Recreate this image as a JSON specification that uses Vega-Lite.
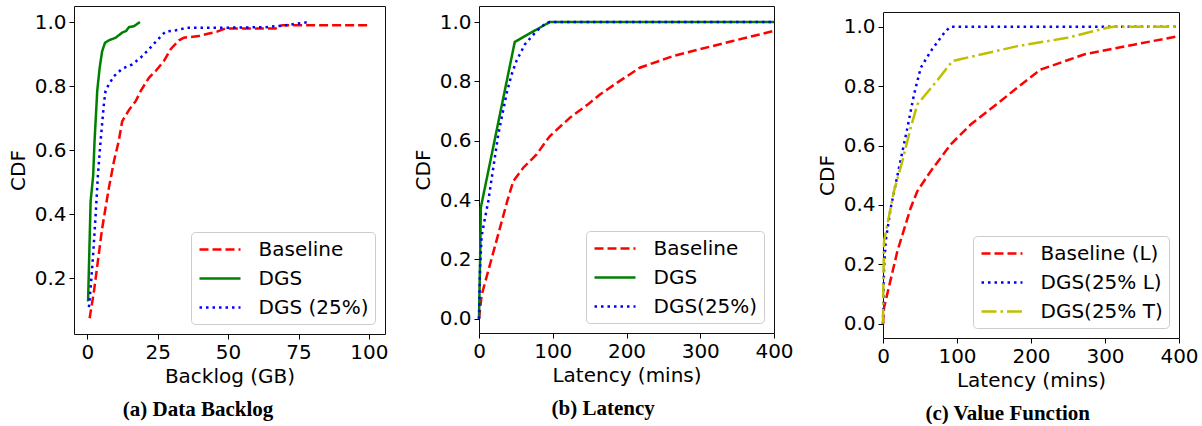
{
  "$schema": "https://vega.github.io/schema/vega-lite/v6.json",
  "padding": {"left": 7, "top": 5, "right": 0, "bottom": 0},
  "spacing": 23,
  "config": {
    "font": "DejaVu Sans",
    "view": {"stroke": "#111111", "strokeWidth": 1},
    "axis": {
      "labelFont": "DejaVu Sans", "labelFontSize": 20, "labelColor": "black",
      "titleFont": "DejaVu Sans", "titleFontSize": 20, "titleFontWeight": "normal", "titleColor": "black",
      "tickColor": "black", "tickSize": 5, "labelPadding": 3, "domain": false, "grid": false,
      "domainColor": "#111111", "domainWidth": 1,
      "labelFlush": false, "labelOverlap": false, "labelBound": false
    },
    "axisY": {"titlePadding": 6},
    "axisX": {"titlePadding": 4},
    "legend": {
      "orient": "bottom-right", "offset": 10, "padding": 6, "strokeColor": "#cccccc", "fillColor": "white",
      "cornerRadius": 4, "symbolType": "M-2,0H2", "symbolSize": 420, "symbolStrokeWidth": 2.5, "symbolOffset": 11.5,
      "labelFont": "DejaVu Sans", "labelFontSize": 20, "labelColor": "black", "labelOffset": 27, "rowPadding": 7, "title": null
    },
    "title": {"font": "Liberation Serif", "fontWeight": "bold", "fontSize": 21, "color": "black", "orient": "bottom", "frame": "bounds", "anchor": "middle", "offset": 13},
    "line": {"strokeWidth": 2.5}
  },
  "resolve": {"scale": {"color": "independent", "strokeDash": "independent", "x": "independent", "y": "independent"}},
  "hconcat": [
    {
      "width": 311, "height": 328,
      "title": "(a) Data Backlog",
      "data": {"values": [
        {"s": "Baseline", "i": 0, "x": 0.85, "y": 0.075},
        {"s": "Baseline", "i": 1, "x": 2.4, "y": 0.16},
        {"s": "Baseline", "i": 2, "x": 4.1, "y": 0.275},
        {"s": "Baseline", "i": 3, "x": 5.2, "y": 0.35},
        {"s": "Baseline", "i": 4, "x": 6.5, "y": 0.42},
        {"s": "Baseline", "i": 5, "x": 7.7, "y": 0.483},
        {"s": "Baseline", "i": 6, "x": 9.5, "y": 0.566},
        {"s": "Baseline", "i": 7, "x": 11.2, "y": 0.629},
        {"s": "Baseline", "i": 8, "x": 12.4, "y": 0.69},
        {"s": "Baseline", "i": 9, "x": 13.4, "y": 0.705},
        {"s": "Baseline", "i": 10, "x": 14.8, "y": 0.725},
        {"s": "Baseline", "i": 11, "x": 17.2, "y": 0.753},
        {"s": "Baseline", "i": 12, "x": 19, "y": 0.785},
        {"s": "Baseline", "i": 13, "x": 21.9, "y": 0.826},
        {"s": "Baseline", "i": 14, "x": 24.3, "y": 0.847},
        {"s": "Baseline", "i": 15, "x": 27.2, "y": 0.878},
        {"s": "Baseline", "i": 16, "x": 29.6, "y": 0.915},
        {"s": "Baseline", "i": 17, "x": 32.6, "y": 0.943},
        {"s": "Baseline", "i": 18, "x": 34.3, "y": 0.951},
        {"s": "Baseline", "i": 19, "x": 39.6, "y": 0.956},
        {"s": "Baseline", "i": 20, "x": 43.2, "y": 0.964},
        {"s": "Baseline", "i": 21, "x": 46.1, "y": 0.97},
        {"s": "Baseline", "i": 22, "x": 49.1, "y": 0.98},
        {"s": "Baseline", "i": 23, "x": 66.9, "y": 0.98},
        {"s": "Baseline", "i": 24, "x": 69.2, "y": 0.99},
        {"s": "Baseline", "i": 25, "x": 99.5, "y": 0.99},
        {"s": "DGS", "i": 0, "x": 0.5, "y": 0.131},
        {"s": "DGS", "i": 1, "x": 0.3, "y": 0.131},
        {"s": "DGS", "i": 2, "x": 1.2, "y": 0.44},
        {"s": "DGS", "i": 3, "x": 2.1, "y": 0.52},
        {"s": "DGS", "i": 4, "x": 2.6, "y": 0.629},
        {"s": "DGS", "i": 5, "x": 3.55, "y": 0.785},
        {"s": "DGS", "i": 6, "x": 4.4, "y": 0.857},
        {"s": "DGS", "i": 7, "x": 5.3, "y": 0.909},
        {"s": "DGS", "i": 8, "x": 6.3, "y": 0.935},
        {"s": "DGS", "i": 9, "x": 7.7, "y": 0.943},
        {"s": "DGS", "i": 10, "x": 10.1, "y": 0.951},
        {"s": "DGS", "i": 11, "x": 12.4, "y": 0.967},
        {"s": "DGS", "i": 12, "x": 13.8, "y": 0.972},
        {"s": "DGS", "i": 13, "x": 14.8, "y": 0.984},
        {"s": "DGS", "i": 14, "x": 16.6, "y": 0.987},
        {"s": "DGS", "i": 15, "x": 18.7, "y": 1.0},
        {"s": "DGS (25%)", "i": 0, "x": 0.6, "y": 0.11},
        {"s": "DGS (25%)", "i": 1, "x": 1.2, "y": 0.17},
        {"s": "DGS (25%)", "i": 2, "x": 2.1, "y": 0.275},
        {"s": "DGS (25%)", "i": 3, "x": 3.0, "y": 0.40},
        {"s": "DGS (25%)", "i": 4, "x": 3.8, "y": 0.524},
        {"s": "DGS (25%)", "i": 5, "x": 4.75, "y": 0.63},
        {"s": "DGS (25%)", "i": 6, "x": 5.9, "y": 0.743},
        {"s": "DGS (25%)", "i": 7, "x": 6.5, "y": 0.785},
        {"s": "DGS (25%)", "i": 8, "x": 7.7, "y": 0.806},
        {"s": "DGS (25%)", "i": 9, "x": 9.5, "y": 0.831},
        {"s": "DGS (25%)", "i": 10, "x": 12.4, "y": 0.854},
        {"s": "DGS (25%)", "i": 11, "x": 16, "y": 0.868},
        {"s": "DGS (25%)", "i": 12, "x": 19, "y": 0.889},
        {"s": "DGS (25%)", "i": 13, "x": 21.9, "y": 0.915},
        {"s": "DGS (25%)", "i": 14, "x": 24.8, "y": 0.943},
        {"s": "DGS (25%)", "i": 15, "x": 27.8, "y": 0.97},
        {"s": "DGS (25%)", "i": 16, "x": 31.4, "y": 0.974},
        {"s": "DGS (25%)", "i": 17, "x": 35.5, "y": 0.982},
        {"s": "DGS (25%)", "i": 18, "x": 46.8, "y": 0.982},
        {"s": "DGS (25%)", "i": 19, "x": 63.3, "y": 0.984},
        {"s": "DGS (25%)", "i": 20, "x": 70.4, "y": 0.99},
        {"s": "DGS (25%)", "i": 21, "x": 78.7, "y": 1.0}
      ]},
      "mark": {"type": "line"},
      "encoding": {
        "x": {"field": "x", "type": "quantitative", "title": "Backlog (GB)",
              "scale": {"domain": [-4.7, 105.7], "nice": false, "zero": false},
              "axis": {"values": [0, 25, 50, 75, 100]}},
        "y": {"field": "y", "type": "quantitative", "title": "CDF",
              "scale": {"domain": [0.026, 1.05], "nice": false, "zero": false},
              "axis": {"values": [0.2, 0.4, 0.6, 0.8, 1.0], "format": ".1f"}},
        "color": {"field": "s", "type": "nominal",
                  "scale": {"domain": ["Baseline", "DGS", "DGS (25%)"], "range": ["#ff0000", "#008000", "#0000ff"]}},
        "strokeDash": {"field": "s", "type": "nominal",
                  "scale": {"domain": ["Baseline", "DGS", "DGS (25%)"], "range": [[9, 4], [1, 0], [2.5, 4]]}},
        "order": {"field": "i", "type": "quantitative"}
      }
    },
    {
      "width": 295, "height": 327,
      "title": "(b) Latency",
      "data": {"values": [
        {"s": "Baseline", "i": 0, "x": 0, "y": 0},
        {"s": "Baseline", "i": 1, "x": 3.6, "y": 0.08},
        {"s": "Baseline", "i": 2, "x": 38.4, "y": 0.397},
        {"s": "Baseline", "i": 3, "x": 46.5, "y": 0.464},
        {"s": "Baseline", "i": 4, "x": 60, "y": 0.509},
        {"s": "Baseline", "i": 5, "x": 78.1, "y": 0.554},
        {"s": "Baseline", "i": 6, "x": 96.2, "y": 0.616},
        {"s": "Baseline", "i": 7, "x": 123, "y": 0.677},
        {"s": "Baseline", "i": 8, "x": 148, "y": 0.723},
        {"s": "Baseline", "i": 9, "x": 164, "y": 0.756},
        {"s": "Baseline", "i": 10, "x": 190, "y": 0.8},
        {"s": "Baseline", "i": 11, "x": 218, "y": 0.846},
        {"s": "Baseline", "i": 12, "x": 263, "y": 0.885},
        {"s": "Baseline", "i": 13, "x": 299, "y": 0.908},
        {"s": "Baseline", "i": 14, "x": 344, "y": 0.936},
        {"s": "Baseline", "i": 15, "x": 400, "y": 0.97},
        {"s": "DGS", "i": 0, "x": 0, "y": 0},
        {"s": "DGS", "i": 1, "x": 1.5, "y": 0.2},
        {"s": "DGS", "i": 2, "x": 2.5, "y": 0.375},
        {"s": "DGS", "i": 3, "x": 48.5, "y": 0.933},
        {"s": "DGS", "i": 4, "x": 96, "y": 1.0},
        {"s": "DGS", "i": 5, "x": 400, "y": 1.0},
        {"s": "DGS(25%)", "i": 0, "x": 0, "y": 0},
        {"s": "DGS(25%)", "i": 1, "x": 1.4, "y": 0.17},
        {"s": "DGS(25%)", "i": 2, "x": 3.6, "y": 0.28},
        {"s": "DGS(25%)", "i": 3, "x": 12.6, "y": 0.397},
        {"s": "DGS(25%)", "i": 4, "x": 26.2, "y": 0.622},
        {"s": "DGS(25%)", "i": 5, "x": 37.5, "y": 0.76},
        {"s": "DGS(25%)", "i": 6, "x": 44.3, "y": 0.824},
        {"s": "DGS(25%)", "i": 7, "x": 51, "y": 0.87},
        {"s": "DGS(25%)", "i": 8, "x": 62.3, "y": 0.925},
        {"s": "DGS(25%)", "i": 9, "x": 78.1, "y": 0.97},
        {"s": "DGS(25%)", "i": 10, "x": 91.7, "y": 0.998},
        {"s": "DGS(25%)", "i": 11, "x": 96, "y": 1.0},
        {"s": "DGS(25%)", "i": 12, "x": 400, "y": 1.0}
      ]},
      "mark": {"type": "line"},
      "encoding": {
        "x": {"field": "x", "type": "quantitative", "title": "Latency (mins)",
              "scale": {"domain": [0, 400], "nice": false, "zero": false},
              "axis": {"values": [0, 100, 200, 300, 400]}},
        "y": {"field": "y", "type": "quantitative", "title": "CDF",
              "scale": {"domain": [-0.048, 1.054], "nice": false, "zero": false},
              "axis": {"values": [0, 0.2, 0.4, 0.6, 0.8, 1.0], "format": ".1f"}},
        "color": {"field": "s", "type": "nominal",
                  "scale": {"domain": ["Baseline", "DGS", "DGS(25%)"], "range": ["#ff0000", "#008000", "#0000ff"]}},
        "strokeDash": {"field": "s", "type": "nominal",
                  "scale": {"domain": ["Baseline", "DGS", "DGS(25%)"], "range": [[9, 4], [1, 0], [2.5, 4]]}},
        "order": {"field": "i", "type": "quantitative"}
      }
    },
    {
      "width": 296, "height": 332,
      "view": {"stroke": null},
      "title": "(c) Value Function",
      "data": {"values": [
        {"s": "Baseline (L)", "i": 0, "x": 0, "y": 0},
        {"s": "Baseline (L)", "i": 1, "x": 1.4, "y": 0.054},
        {"s": "Baseline (L)", "i": 2, "x": 19.5, "y": 0.245},
        {"s": "Baseline (L)", "i": 3, "x": 37.4, "y": 0.39},
        {"s": "Baseline (L)", "i": 4, "x": 46.5, "y": 0.447},
        {"s": "Baseline (L)", "i": 5, "x": 64.5, "y": 0.514},
        {"s": "Baseline (L)", "i": 6, "x": 91.5, "y": 0.604},
        {"s": "Baseline (L)", "i": 7, "x": 118.5, "y": 0.671},
        {"s": "Baseline (L)", "i": 8, "x": 159, "y": 0.75},
        {"s": "Baseline (L)", "i": 9, "x": 183.8, "y": 0.80},
        {"s": "Baseline (L)", "i": 10, "x": 213, "y": 0.856},
        {"s": "Baseline (L)", "i": 11, "x": 271.6, "y": 0.907},
        {"s": "Baseline (L)", "i": 12, "x": 339, "y": 0.94},
        {"s": "Baseline (L)", "i": 13, "x": 400, "y": 0.969},
        {"s": "DGS(25% L)", "i": 0, "x": 0, "y": 0},
        {"s": "DGS(25% L)", "i": 1, "x": 1.4, "y": 0.19},
        {"s": "DGS(25% L)", "i": 2, "x": 3.6, "y": 0.278},
        {"s": "DGS(25% L)", "i": 3, "x": 10.4, "y": 0.39},
        {"s": "DGS(25% L)", "i": 4, "x": 21.6, "y": 0.525},
        {"s": "DGS(25% L)", "i": 5, "x": 33, "y": 0.66},
        {"s": "DGS(25% L)", "i": 6, "x": 41.9, "y": 0.772},
        {"s": "DGS(25% L)", "i": 7, "x": 51, "y": 0.862},
        {"s": "DGS(25% L)", "i": 8, "x": 64.5, "y": 0.918},
        {"s": "DGS(25% L)", "i": 9, "x": 84.7, "y": 0.986},
        {"s": "DGS(25% L)", "i": 10, "x": 91.5, "y": 1.0},
        {"s": "DGS(25% L)", "i": 11, "x": 400, "y": 1.0},
        {"s": "DGS(25% T)", "i": 0, "x": 0, "y": 0},
        {"s": "DGS(25% T)", "i": 1, "x": 0.5, "y": 0.13},
        {"s": "DGS(25% T)", "i": 2, "x": 1.4, "y": 0.278},
        {"s": "DGS(25% T)", "i": 3, "x": 14.9, "y": 0.447},
        {"s": "DGS(25% T)", "i": 4, "x": 26.2, "y": 0.548},
        {"s": "DGS(25% T)", "i": 5, "x": 37.4, "y": 0.66},
        {"s": "DGS(25% T)", "i": 6, "x": 46.5, "y": 0.739},
        {"s": "DGS(25% T)", "i": 7, "x": 73.5, "y": 0.82},
        {"s": "DGS(25% T)", "i": 8, "x": 93.8, "y": 0.885},
        {"s": "DGS(25% T)", "i": 9, "x": 181.6, "y": 0.935},
        {"s": "DGS(25% T)", "i": 10, "x": 249, "y": 0.963},
        {"s": "DGS(25% T)", "i": 11, "x": 303, "y": 0.997},
        {"s": "DGS(25% T)", "i": 12, "x": 312, "y": 1.0},
        {"s": "DGS(25% T)", "i": 13, "x": 400, "y": 1.0}
      ]},
      "resolve": {"axis": {"x": "independent", "y": "independent"}},
      "layer": [
        {
          "mark": {"type": "line"},
          "encoding": {
            "x": {"field": "x", "type": "quantitative", "title": "Latency (mins)",
                  "scale": {"domain": [0, 400], "nice": false, "zero": false},
                  "axis": {"values": [0, 100, 200, 300, 400], "domain": true}},
            "y": {"field": "y", "type": "quantitative", "title": "CDF",
                  "scale": {"domain": [-0.048, 1.05], "range": [332, 6], "nice": false, "zero": false},
                  "axis": {"values": [0, 0.2, 0.4, 0.6, 0.8, 1.0], "format": ".1f", "domain": true}},
            "color": {"field": "s", "type": "nominal",
                      "scale": {"domain": ["Baseline (L)", "DGS(25% L)", "DGS(25% T)"], "range": ["#ff0000", "#0000ff", "#bfbf00"]}},
            "strokeDash": {"field": "s", "type": "nominal",
                      "scale": {"domain": ["Baseline (L)", "DGS(25% L)", "DGS(25% T)"], "range": [[9, 4], [2.5, 4], [15, 4, 2.5, 4]]}},
            "order": {"field": "i", "type": "quantitative"}
          }
        },
        {
          "mark": {"type": "point", "opacity": 0},
          "encoding": {
            "x": {"datum": 0, "type": "quantitative",
                  "axis": {"orient": "top", "offset": -6, "labels": false, "ticks": false, "domain": true, "title": null, "values": [0]}},
            "y": {"datum": 0, "type": "quantitative",
                  "axis": {"orient": "right", "labels": false, "ticks": false, "domain": true, "title": null, "values": [0]}}
          }
        }
      ]
    }
  ]
}
